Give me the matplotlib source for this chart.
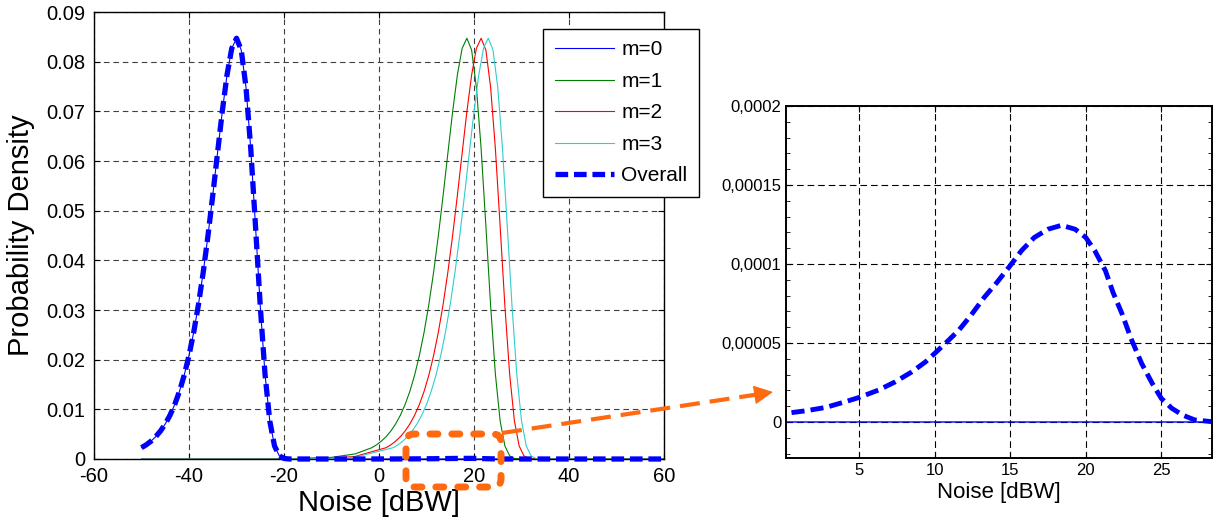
import matplotlib.pyplot as plt
from matplotlib.patches import FancyBboxPatch, FancyArrowPatch
from matplotlib.lines import Line2D
from matplotlib.ticker import MultipleLocator

plt.rcParams['font.family'] = 'Liberation Sans'

# one peak (1 dB steps, from 20 dB below the mode to 11 dB above)
peak_y = [0.00228, 0.00286, 0.00359, 0.00450, 0.00564, 0.00706, 0.00881, 0.01098,
          0.01364, 0.01690, 0.02084, 0.02556, 0.03115, 0.03764, 0.04500, 0.05308,
          0.06158, 0.06993, 0.07732, 0.08267, 0.08472, 0.08234, 0.07483, 0.06249,
          0.04691, 0.03084, 0.01712, 0.00769, 0.00264, 0.00065, 0.00011, 0.00001]

m0_x = list(range(-50, -18)) + [-18, 60]
m0_y = peak_y + [0.0, 0.0]

m1_x = [-50, -30, -20, -10, -5,
        -1.5, -0.5, 0.5, 1.5, 2.5, 3.5, 4.5, 5.5, 6.5, 7.5, 8.5, 9.5, 10.5, 11.5,
        12.5, 13.5, 14.5, 15.5, 16.5, 17.5, 18.5, 19.5, 20.5, 21.5, 22.5, 23.5,
        24.5, 25.5, 26.5, 27.5, 28.5, 29.5,
        30.5, 60]
m1_y = [0.0, 0.00001, 0.00003, 0.00033, 0.00103] + peak_y + [0.0, 0.0]

m2_x = [-50, -30, -20, -10, -5,
        1.5, 2.5, 3.5, 4.5, 5.5, 6.5, 7.5, 8.5, 9.5, 10.5, 11.5, 12.5, 13.5, 14.5,
        15.5, 16.5, 17.5, 18.5, 19.5, 20.5, 21.5, 22.5, 23.5, 24.5, 25.5, 26.5,
        27.5, 28.5, 29.5, 30.5, 31.5, 32.5,
        33.5, 60]
m2_y = [0.0, 0.0, 0.00002, 0.00016, 0.00052] + peak_y + [0.0, 0.0]

m3_x = [-50, -30, -20, -10, -5,
        3, 4, 5, 6, 7, 8, 9, 10, 11, 12, 13, 14, 15, 16, 17, 18, 19, 20, 21, 22,
        23, 24, 25, 26, 27, 28, 29, 30, 31, 32, 33, 34,
        35, 60]
m3_y = [0.0, 0.0, 0.00001, 0.00012, 0.00037] + peak_y + [0.0, 0.0]

# overall density: the m=0 peak plus the small bump seen in the zoomed panel
bump_x = [0.2, 1.5, 2.8, 4.1, 5.0, 6.3, 7.4, 8.5, 9.4, 10.0, 10.7, 11.6, 12.4, 13.3,
          14.1, 15.0, 15.75, 16.6, 17.5, 18.4, 19.3, 20.0, 20.6, 21.3, 21.8, 22.4,
          23.0, 23.7, 24.4, 25.0, 25.7, 26.4, 27.2, 28.35]
bump_y = [5.5e-6, 7.1e-6, 9.2e-6, 12.8e-6, 15.5e-6, 20.2e-6, 25.4e-6, 31.7e-6, 38.0e-6,
          43.3e-6, 49.6e-6, 58.0e-6, 67.4e-6, 79.0e-6, 88.0e-6, 98.9e-6, 108.4e-6,
          116.8e-6, 122.0e-6, 124.5e-6, 122.0e-6, 116.8e-6, 108.4e-6, 95.8e-6, 82.1e-6,
          68.5e-6, 52.7e-6, 37.0e-6, 24.4e-6, 14.9e-6, 8.6e-6, 4.4e-6, 1.3e-6, 0.2e-6]
overall_x = list(range(-50, -18)) + [-18, -10, -5] + bump_x + [30, 60]
overall_y = peak_y + [0.0, 1e-6, 3e-6] + bump_y + [0.0, 0.0]

labels = ['m=0', 'm=1', 'm=2', 'm=3', 'Overall']
colors = ['#0000ff', '#008000', '#ff0000', '#33cccc']

main_xticks = [-60, -40, -20, 0, 20, 40, 60]
main_yticks = [0, 0.01, 0.02, 0.03, 0.04, 0.05, 0.06, 0.07, 0.08, 0.09]
main_ylabels = ['0', '0.01', '0.02', '0.03', '0.04', '0.05', '0.06', '0.07', '0.08', '0.09']
zoom_xticks = [5, 10, 15, 20, 25]
zoom_yticks = [0, 0.00005, 0.0001, 0.00015, 0.0002]
zoom_ylabels = ['0', '0,00005', '0,0001', '0,00015', '0,0002']

W, H = 1213, 527


def px(x, y):
    return (x / W, 1 - y / H)


fig = plt.figure(figsize=(W / 100, H / 100), dpi=100)
ax = fig.add_axes([94 / W, 1 - 459 / H, 570 / W, 447 / H])
ins = fig.add_axes([786 / W, 1 - 458 / H, 426 / W, 352 / H])

# ---- main panel
handles = []
for xs, ys, c, lab in zip([m0_x, m1_x, m2_x, m3_x], [m0_y, m1_y, m2_y, m3_y], colors, labels):
    h, = ax.plot(xs, ys, color=c, lw=0.8, label=lab)
    handles.append(h)
h, = ax.plot(overall_x, overall_y, color='#0000ff', lw=3.8, ls=(0, (2.4, 1.1)),
             label='Overall', clip_on=False, zorder=3)
handles.append(h)

ax.set_xlim(-60, 60)
ax.set_ylim(0, 0.09)
ax.set_xticks(main_xticks)
ax.set_xticklabels([str(t) for t in main_xticks])
ax.set_yticks(main_yticks)
ax.set_yticklabels(main_ylabels)
ax.tick_params(direction='in', top=True, right=True, length=4, labelsize=14.5, pad=6)
ax.grid(True, color='#404040', lw=0.8, ls=(0, (5, 3.5)))
for s in ax.spines.values():
    s.set_linewidth(1.0)
ax.set_xlabel('Noise [dBW]', fontsize=21, labelpad=2)
ax.set_ylabel('Probability Density', fontsize=21, labelpad=8)

leg = fig.legend(handles=handles, loc='upper right', bbox_to_anchor=px(699, 29),
                 borderaxespad=0, fontsize=15, handlelength=2.85, handletextpad=0.35,
                 labelspacing=0.6, borderpad=0.55, fancybox=False, framealpha=1,
                 edgecolor='black')
leg.get_frame().set_linewidth(1.0)

# ---- zoomed panel
ins.plot(m0_x, m0_y, color='#0000ff', lw=1.0)
ins.plot(overall_x, overall_y, color='#0000ff', lw=3.5, ls=(0, (2.7, 1.25)))
ins.set_xlim(0.18, 28.35)
ins.set_ylim(-0.0000228, 0.0002)
ins.set_xticks(zoom_xticks)
ins.set_xticklabels([str(t) for t in zoom_xticks])
ins.set_yticks(zoom_yticks)
ins.set_yticklabels(zoom_ylabels)
ins.yaxis.set_minor_locator(MultipleLocator(0.00001))
ins.tick_params(which='both', direction='in', top=True, right=True, labelsize=12)
ins.tick_params(which='major', length=4)
ins.tick_params(which='minor', length=3)
ins.grid(True, color='black', lw=0.8, ls=(0, (6, 3.5)))
for s in ins.spines.values():
    s.set_linewidth(1.4)
ins.set_xlabel('Noise [dBW]', fontsize=16, labelpad=3)

# ---- orange zoom marker and arrow
orange = '#ff6a10'
x0, y0 = px(406, 487)
x1, y1 = px(501, 434)
box = FancyBboxPatch((x0, y0), x1 - x0, y1 - y0, transform=fig.transFigure,
                     boxstyle='round,pad=0,rounding_size=%f' % (8 / W),
                     mutation_aspect=W / H, fill=False, edgecolor=orange, lw=5,
                     ls=(0, (1.15, 2.0)), capstyle='round', zorder=10)
fig.add_artist(box)

fig.add_artist(Line2D([502 / W, 757 / W], [1 - 433 / H, 1 - 394.5 / H], transform=fig.transFigure,
                      color=orange, lw=3, ls=(0, (4.8, 2.4)), zorder=10))
fig.add_artist(FancyArrowPatch(px(752, 395.3), px(773, 392), transform=fig.transFigure,
                               arrowstyle='-|>,head_length=12,head_width=6', color=orange,
                               lw=1, shrinkA=0, shrinkB=0, zorder=10))

fig.savefig('out.png', dpi=100)
